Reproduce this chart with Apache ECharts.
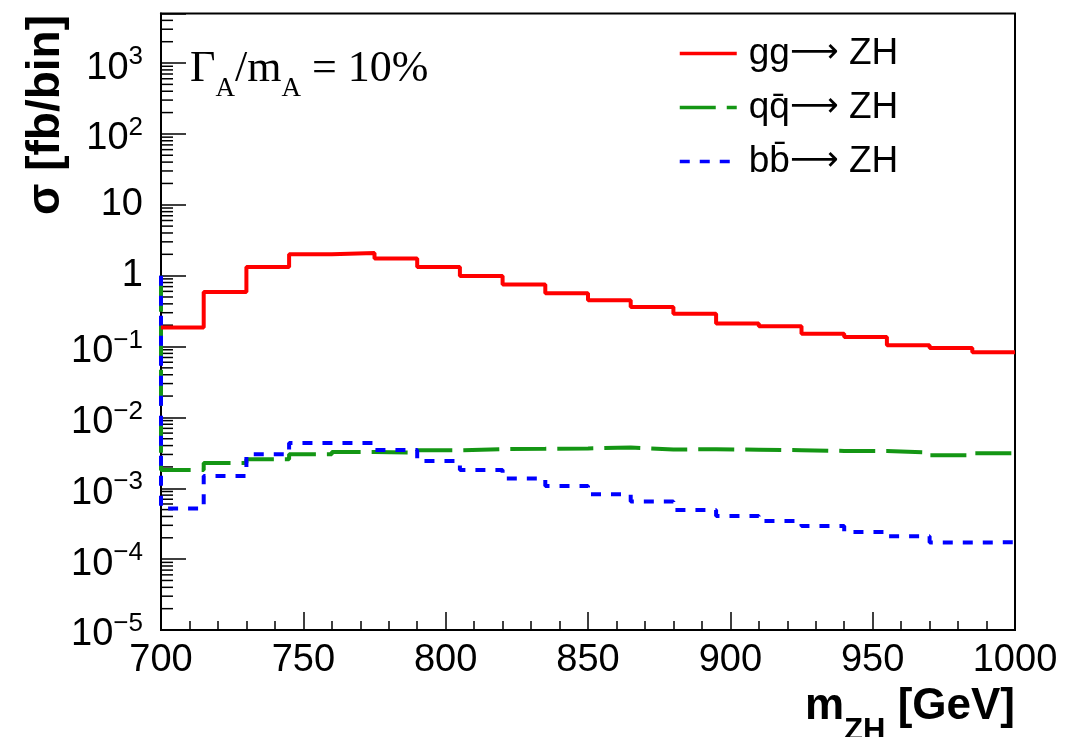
<!DOCTYPE html>
<html>
<head>
<meta charset="utf-8">
<script src="https://cdn.jsdelivr.net/npm/echarts@6/dist/echarts.min.js"></script>
<style>html,body{margin:0;padding:0;background:#fff}#c{width:1077px;height:737px}</style>
</head>
<body>
<div id="c"></div>
<script>
// ---- data ----
const binEdges = [700,715,730,745,760,775,790,805,820,835,850,865,880,895,910,925,940,955,970,985,1000];
const ggZH = [0.185,0.587,1.32,2.0,2.08,1.75,1.32,0.987,0.753,0.563,0.449,0.361,0.291,0.212,0.193,0.152,0.136,0.104,0.0953,0.0828];
const qqZH = [1.81e-3,2.28e-3,2.57e-3,3.02e-3,3.25e-3,3.19e-3,3.44e-3,3.57e-3,3.6e-3,3.65e-3,3.75e-3,3.52e-3,3.55e-3,3.5e-3,3.44e-3,3.36e-3,3.36e-3,3.2e-3,2.92e-3,3.12e-3];
const bbZH = [5.17e-4,1.49e-3,3.02e-3,4.36e-3,4.36e-3,3.47e-3,2.43e-3,1.81e-3,1.37e-3,1.08e-3,8.2e-4,6.49e-4,4.94e-4,4.07e-4,3.46e-4,2.94e-4,2.42e-4,2.1e-4,1.71e-4,1.73e-4];
const qqEntry = 1.0;   // level entering the first edge (vertical line at 700)
const bbEntry = 1.0;
const seriesNames = ['gg', 'qq\u0304', 'bb\u0304'];
const legendSuffix = ' ZH';
const xRange = [700, 1000];
const xTickStep = 50;
const yRange = [1e-5, 5000];
const yDecades = [-5,-4,-3,-2,-1,0,1,2,3];
const minorMultipliers = [2,3,4,5,6,7,8,9];

// ---- helpers ----
function stepData(vals, entry) {
  const d = [];
  if (entry != null) d.push([binEdges[0], entry]);
  vals.forEach((v, i) => d.push([binEdges[i], v]));
  d.push([binEdges[binEdges.length - 1], vals[vals.length - 1]]);
  return d;
}
const yMinorTicks = [];
yDecades.forEach(k => minorMultipliers.forEach(m => {
  const v = m * Math.pow(10, k);
  if (v < yRange[1]) yMinorTicks.push([xRange[0], v]);
}));

const SANS = '"Liberation Sans", Arial, sans-serif';
const SERIF = '"Liberation Serif", "Times New Roman", serif';

function yLabel(value) {
  const lg = Math.log10(value);
  const k = Math.round(lg);
  if (Math.abs(lg - k) > 1e-6) return '';
  if (k === 0) return '{p|1}';
  if (k === 1) return '{p|10}';
  return '{b|10}{s|' + (k < 0 ? '\u2212' + (-k) : k) + '}';
}

const chart = echarts.init(document.getElementById('c'), null, {renderer: 'canvas'});
chart.setOption({
  animation: false,
  backgroundColor: '#fff',
  grid: {left: 161, top: 13.5, width: 854, height: 616.5, show: true, borderColor: '#000', borderWidth: 2, backgroundColor: 'transparent'},
  legend: {
    data: seriesNames, orient: 'vertical', left: 678, top: 35, padding: 0,
    itemWidth: 57, itemHeight: 14, itemGap: 17,
    itemStyle: {opacity: 0, borderWidth: 0},
    lineStyle: {width: 3.5},
    formatter: function (name) { return '{t|' + name + '}{a|\u27f6}{t|' + legendSuffix + '}'; },
    textStyle: {
      fontFamily: SANS, fontSize: 37, lineHeight: 37, color: '#000', padding: [0, 0, 0, 7],
      rich: {
        t: {fontFamily: SANS, fontSize: 37, lineHeight: 37, color: '#000'},
        a: {fontFamily: '"DejaVu Sans", sans-serif', fontSize: 34, lineHeight: 37, color: '#000'}
      }
    }
  },
  xAxis: {
    type: 'value', min: xRange[0], max: xRange[1], interval: xTickStep,
    axisLine: {show: true, lineStyle: {color: '#000', width: 2}},
    axisTick: {show: true, inside: true, length: 18, lineStyle: {color: '#000', width: 1.5}},
    minorTick: {show: true, splitNumber: 5, length: 9, lineStyle: {color: '#000', width: 1.5}},
    splitLine: {show: false},
    axisLabel: {fontFamily: SANS, fontSize: 38, color: '#000', margin: 12, showMinLabel: true, showMaxLabel: true,
      formatter: function (v) { return String(v); }}
  },
  yAxis: {
    type: 'log', logBase: 10, min: yRange[0], max: yRange[1], splitNumber: 10,
    axisLine: {show: true, lineStyle: {color: '#000', width: 2}},
    axisTick: {show: true, inside: true, length: 25, lineStyle: {color: '#000', width: 1.5}},
    splitLine: {show: false},
    axisLabel: {
      margin: 18, color: '#000', formatter: yLabel,
      rich: {
        p: {fontFamily: SANS, fontSize: 38, color: '#000'},
        b: {fontFamily: SANS, fontSize: 38, color: '#000', verticalAlign: 'top', padding: [10, 0, 0, 0]},
        s: {fontFamily: SANS, fontSize: 26, color: '#000', verticalAlign: 'top', padding: [5, 0, 0, 0]}
      }
    }
  },
  graphic: [
    {type: 'text', x: 190, y: 47, z: 10, style: {
      text: '{g|\u0393}{s|A}{g|/m}{s|A}{g| = 10%}', align: 'left', verticalAlign: 'top',
      rich: {
        g: {fontFamily: SERIF, fontSize: 44, fill: '#000', verticalAlign: 'top'},
        s: {fontFamily: SERIF, fontSize: 27, fill: '#000', verticalAlign: 'top', padding: [28, 0, 0, 0]}
      }}},
    {type: 'text', x: 46, y: 15, rotation: Math.PI / 2, z: 10, style: {
      text: '\u03c3 [fb/bin]', font: 'bold 46px ' + SANS, fill: '#000', align: 'right', verticalAlign: 'middle'}},
    {type: 'text', x: 1015, y: 685, z: 10, style: {
      text: '{m|m}{s|ZH}{m| [GeV]}', align: 'right', verticalAlign: 'top',
      rich: {
        m: {fontFamily: SANS, fontWeight: 'bold', fontSize: 44, fill: '#000', verticalAlign: 'top'},
        s: {fontFamily: SANS, fontWeight: 'bold', fontSize: 31, fill: '#000', verticalAlign: 'top', padding: [31, 0, 0, 0]}
      }}}
  ],
  series: [
    {name: seriesNames[0], type: 'line', step: 'end', data: stepData(ggZH, null), symbol: 'none', showSymbol: false,
     lineStyle: {color: '#ff0000', width: 4}, itemStyle: {color: '#ff0000'}, z: 4},
    {name: seriesNames[1], type: 'line', step: 'end', data: stepData(qqZH, qqEntry), symbol: 'none', showSymbol: false,
     lineStyle: {color: '#149614', width: 4, type: [36, 11]}, itemStyle: {color: '#149614'}, z: 3},
    {name: seriesNames[2], type: 'line', step: 'end', data: stepData(bbZH, bbEntry), symbol: 'none', showSymbol: false,
     lineStyle: {color: '#0000ff', width: 4, type: [10, 10]}, itemStyle: {color: '#0000ff'}, z: 3},
    {type: 'custom', silent: true, data: yMinorTicks, z: 2,
     renderItem: function (params, api) {
       const p = api.coord([api.value(0), api.value(1)]);
       return {type: 'line', shape: {x1: p[0], y1: p[1], x2: p[0] + 12, y2: p[1]}, style: {stroke: '#000', lineWidth: 1.5}};
     }}
  ]
});
</script>
</body>
</html>
